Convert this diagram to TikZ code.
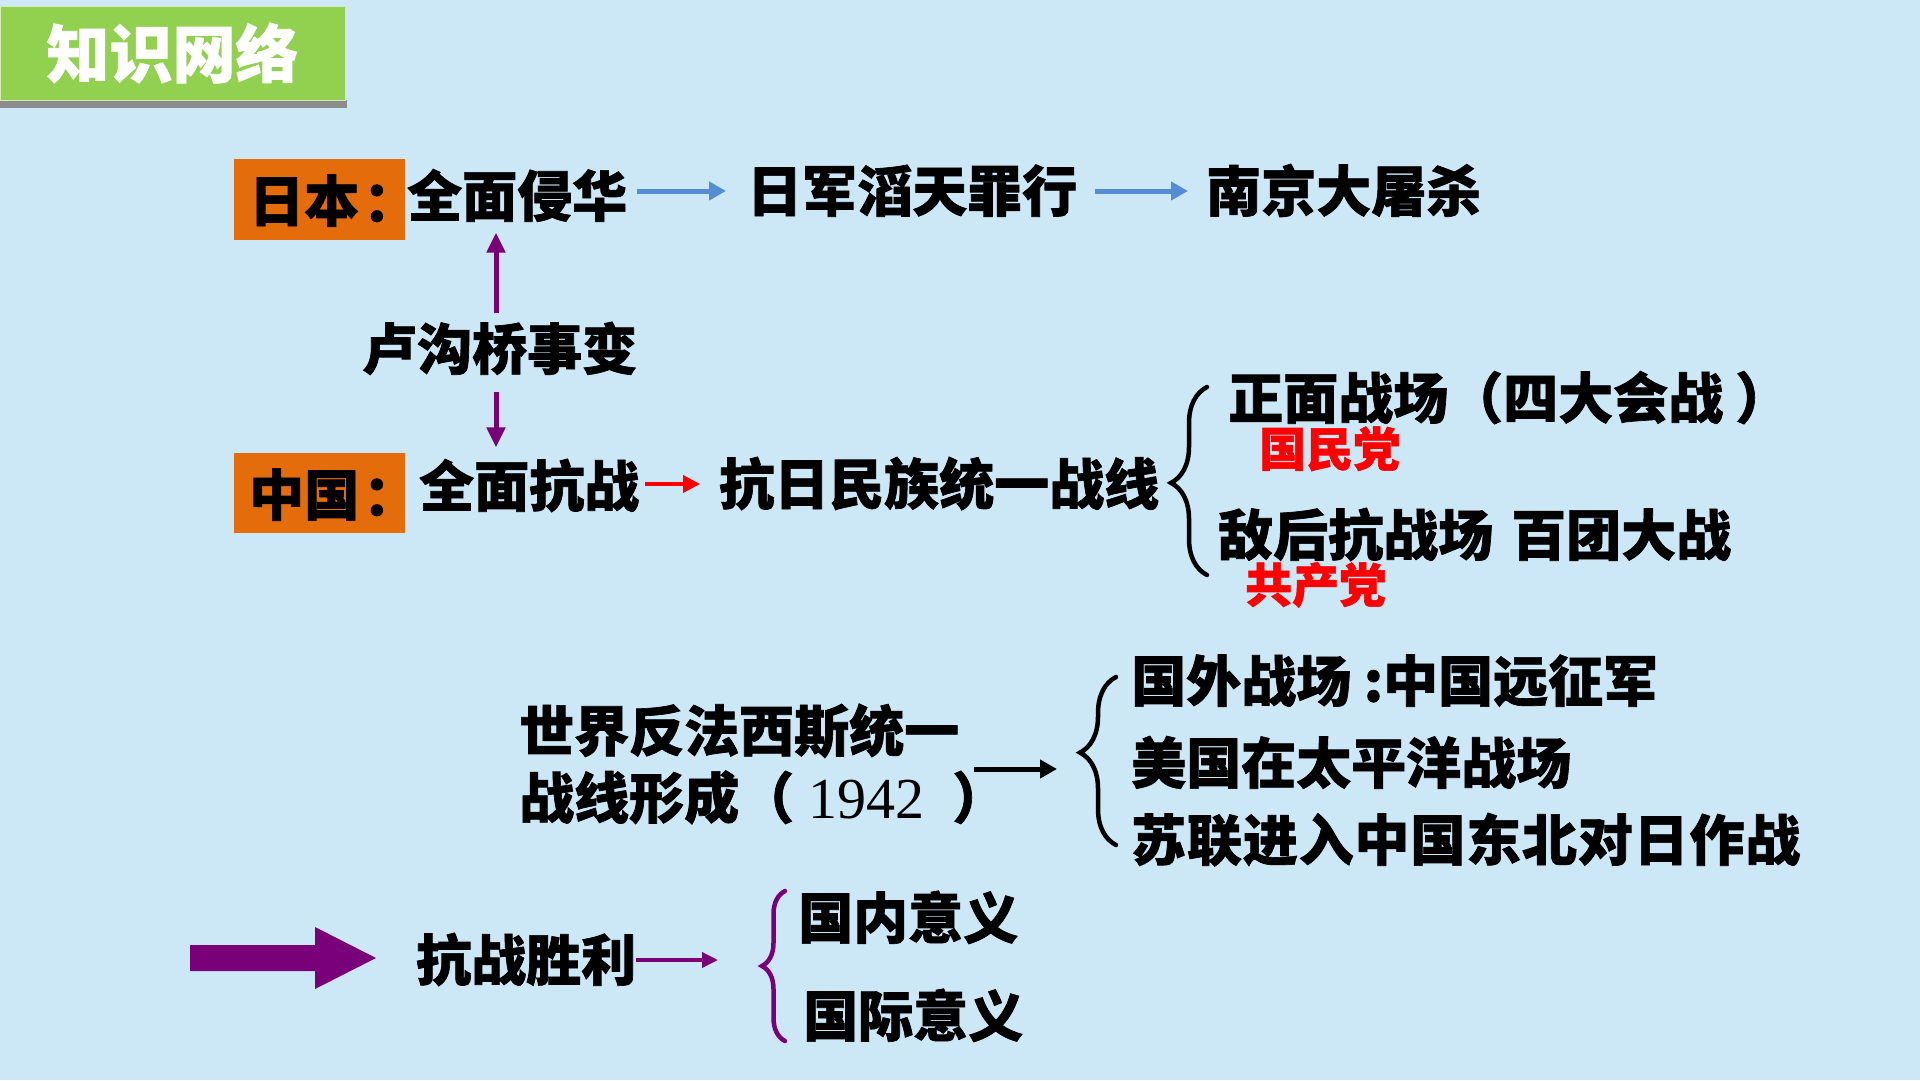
\documentclass[tikz,border=0pt]{standalone}
\usepackage{fontspec}
\setmainfont{Liberation Serif}
\newfontfamily\cjk{Noto Sans CJK SC}[BoldFeatures={FakeBold=1.2}]
\newfontfamily\numfont{Liberation Serif}
\usetikzlibrary{arrows.meta,decorations.pathreplacing}
\definecolor{bgblue}{RGB}{204,231,246}
\definecolor{tgreen}{RGB}{146,208,80}
\definecolor{korange}{RGB}{228,108,10}
\definecolor{kpurple}{RGB}{122,0,122}
\definecolor{kblue}{RGB}{84,141,212}
\definecolor{kred}{RGB}{255,0,0}
\begin{document}
\begin{tikzpicture}[x=1pt,y=-1pt,
  cn/.style={font=\cjk\bfseries\fontsize{55}{67}\selectfont, inner sep=0pt,
    text height=48pt, text depth=7pt, anchor=west, text=black},
  rednote/.style={cn, font=\cjk\bfseries\fontsize{47}{56}\selectfont,
    text height=41pt, text depth=6pt, text=kred},
  tagbox/.style={fill=korange, minimum width=171pt, minimum height=81pt, inner sep=0pt},
  bluearrow/.style={draw=kblue, line width=5pt, -{Triangle[length=17pt,width=18pt]}},
  purplearrow/.style={draw=kpurple, line width=5pt, -{Triangle[length=20pt,width=18pt]}},
  redarrow/.style={draw=kred, line width=4pt, -{Triangle[length=17pt,width=17pt]}},
  blackarrow/.style={draw=black, line width=5pt, -{Triangle[length=17pt,width=18pt]}},
  thinpurple/.style={draw=kpurple, line width=3.5pt, -{Triangle[length=16pt,width=15pt]}},
  bracestyle/.style={line width=4.5pt, line cap=round, decorate},
]
\fill[bgblue] (0,0) rectangle (1920,1080);
\useasboundingbox (0,0) rectangle (1920,1080);

% title
\fill[black!45] (0,100) rectangle (347,108);
\node[fill=tgreen, draw=white!60!tgreen, line width=1pt, minimum width=345pt, minimum height=94pt,
  inner sep=0pt, text=white, font=\cjk\bfseries\fontsize{63}{70}\selectfont] (title) at (172.5,53) {知识网络};

% Japan row
\node[tagbox] (jp) at (319.5,199.5) {};
\node[cn] (jptxt) at (249,201) {日本\hspace{4pt}：};
\node[cn] (qmqh) at (407,196) {全面侵华};
\node[cn] (rjzt) at (747,191) {日军滔天罪行};
\node[cn] (njds) at (1206,191) {南京大屠杀};
\draw[bluearrow, shorten <=10pt, shorten >=21pt] (qmqh.east |- rjzt.west) -- (rjzt.west);
\draw[bluearrow, shorten <=18pt, shorten >=18pt] (rjzt.east) -- (njds.west);

% Lugouqiao
\node[cn] (lgq) at (362,349) {卢沟桥事变};
\coordinate (upx) at (496,0);
\draw[purplearrow, shorten <=8pt, shorten >=9pt] (lgq.north -| upx) -- (qmqh.south -| upx);

% China row
\node[tagbox, minimum height=80pt] (zg) at (319.5,493) {};
\node[cn] (zgtxt) at (249,495) {中国\hspace{4pt}：};
\node[cn] (qmkz) at (419,486) {全面抗战};
\draw[purplearrow, shorten <=15pt, shorten >=11pt] (lgq.south -| upx) -- (qmkz.north -| upx);
\node[cn] (krmz) at (719,484) {抗日民族统一战线};
\draw[redarrow, shorten <=6pt, shorten >=19pt] (qmkz.east |- krmz.west) -- (krmz.west);

\coordinate (b1bot) at (1207,575);
\coordinate (b1top) at (1207,387);
\draw[bracestyle, decoration={brace, amplitude=36pt, aspect=0.49}] (b1bot) -- (b1top);

\node[cn] (zmzc) at (1228,398) {正面战场（四大会战\hspace{12pt}）};
\node[rednote] (gmd) at (1259,449) {国民党};
\node[cn] (dhkz) at (1218,535) {敌后抗战场\hspace{18pt}百团大战};
\node[rednote] (gcd) at (1245,585) {共产党};

% World anti-fascist front
\node[font=\cjk\bfseries\fontsize{55}{67}\selectfont, inner sep=0pt, anchor=west, align=left] (wsf) at (519,764)
  {世界反法西斯统一\\战线形成（\hspace{14pt}{\numfont\mdseries\fontsize{58}{67}\selectfont 1942}\hspace{28pt}）};
\coordinate (b2bot) at (1116,845);
\coordinate (b2top) at (1116,677);
\coordinate (b2tip) at (1078,769);
\draw[bracestyle, decoration={brace, amplitude=36pt, aspect=0.55}] (b2bot) -- (b2top);
\draw[blackarrow, shorten <=-33pt, shorten >=21pt] (wsf.east |- b2tip) -- (b2tip);

\node[cn] (gwzc) at (1131,681) {国外战场 :中国远征军};
\node[cn] (mgtp) at (1131,763) {美国在太平洋战场};
\node[cn] (sljr) at (1131,840) {\addfontfeature{LetterSpace=1.5}苏联进入中国东北对日作战};

% Victory
\fill[kpurple] (190,945) -- (315,945) -- (315,927) -- (376,958) -- (315,989) -- (315,971) -- (190,971) -- cycle;
\node[cn] (kzsl) at (416,960) {抗战胜利};
\coordinate (b3bot) at (785,1041);
\coordinate (b3top) at (785,891);
\coordinate (b3tip) at (762,962);
\draw[bracestyle, draw=kpurple, decoration={brace, amplitude=23pt, aspect=0.5}] (b3bot) -- (b3top);
\draw[thinpurple, shorten >=44pt] (kzsl.east) -- (kzsl.east -| b3tip);
\node[cn] (gnyy) at (798,918) {国内意义};
\node[cn] (gjyy) at (803,1016) {国际意义};
\end{tikzpicture}
\end{document}
